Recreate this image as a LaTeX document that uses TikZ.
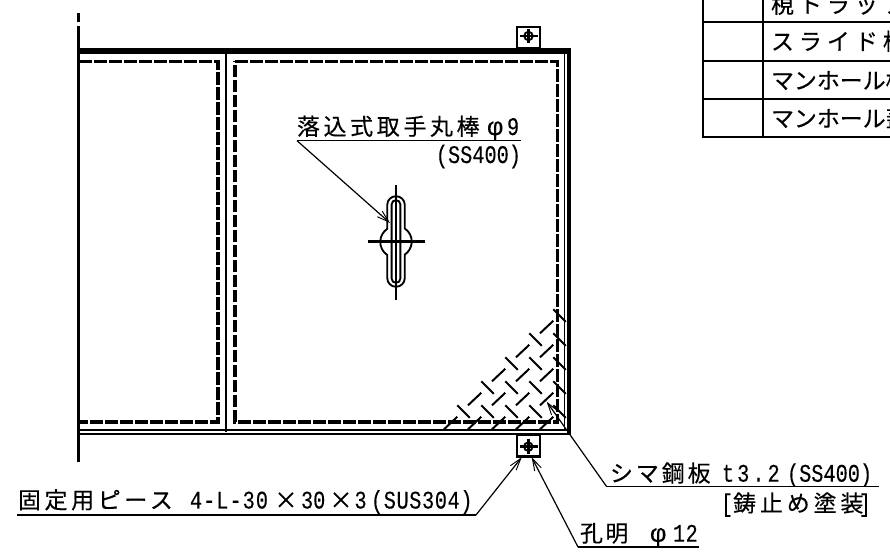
\documentclass[tikz,border=0pt]{standalone}
\usepackage{fontspec}
\usetikzlibrary{arrows.meta}
\newfontfamily\jpf{Noto Sans CJK JP}[FakeBold=0.35]
\newfontfamily\latf{Liberation Mono}[FakeStretch=0.8,FakeBold=0.2]
\newfontfamily\phif{Liberation Sans}[FakeBold=0.2]
\newcommand{\JT}[2]{{\jpf\fontsize{17.2pt}{18pt}\selectfont\addfontfeature{LetterSpace=#1}#2}}
\newcommand{\LT}[2]{{\latf\fontsize{19pt}{20pt}\selectfont\addfontfeature{LetterSpace=#1}#2}}
\newcommand{\PH}{{\phif\fontsize{19pt}{20pt}\selectfont φ}}
\tikzset{
  thinl/.style={line width=1.4pt,black},
  medl/.style={line width=1.8pt,black},
  leader/.style={line width=0.9pt,black},
  barb/.style={leader,-{Straight Barb[length=9pt,width=5.5pt,line width=0.7pt]}},
  dashb/.style={line width=2.9pt,black,dash pattern=on 9.5pt off 1.75pt},
  lab/.style={anchor=base west,inner sep=0pt,outer sep=0pt},
  labr/.style={anchor=base east,inner sep=0pt,outer sep=0pt},
  hatchl/.style={line width=1.5pt,black},
}
\begin{document}
\begin{tikzpicture}[x=0.75pt,y=-0.75pt]
\useasboundingbox (0,0) rectangle (890,552);
% outer left broken line
\draw[medl] (78.5,13) -- (78.5,22);
\draw[medl] (78.5,26) -- (78.5,462);
% frame
\draw[line width=3.8pt,black] (78.5,51) -- (570.7,51);
\draw[line width=2.8pt,black] (569,49) -- (569,434.5);
\draw[thinl] (564.5,51) -- (564.5,431);
\draw[thinl] (78.5,430) -- (569,430);
\draw[medl] (78.5,433.8) -- (570.7,433.8);
\draw[medl] (226,51) -- (226,432);
% panels
\draw[dashb] (79,61.5) -- (218,61.5) -- (218,422) -- (79,422);
\draw[dashb] (235,61.5) -- (557.5,61.5) -- (557.5,422) -- (235,422) -- cycle;
% checker plate hatching
\foreach \j in {0,...,4}{
  \foreach \i in {0,...,\j}{
    \draw[hatchl] ({540-24*\i},{333.3+24*\j}) -- ++(13.3,-12.5);
    \draw[hatchl] ({553.3-24*\i},{309.3+24*\j}) -- ++(12.5,12.5);
  }
}
% small fixing pieces
\draw[medl] (517,27) rectangle (540,48);
\draw[medl] (517,434.5) rectangle (540,456.5);
\draw[thinl] (528.5,36) circle[radius=3.2pt];
\draw[medl] (520,36) -- (537.5,36);
\draw[medl] (528.5,29) -- (528.5,43);
\draw[thinl] (528.3,446.7) circle[radius=3.2pt];
\draw[medl] (520,446.7) -- (537.5,446.7);
\draw[medl] (528.3,439) -- (528.3,454);
% handle
\draw[medl] (396,185) -- (396,300);
\draw[medl] (368,241.7) -- (425,241.7);
\draw[thinl] (387.2,205) arc[start angle=180,end angle=0,radius=6.6pt]
  -- (404.8,228.5) arc[start angle=56,end angle=-56,radius=11.8pt]
  -- (404.8,278) arc[start angle=0,end angle=-180,radius=6.6pt]
  -- (387.2,255) arc[start angle=-124,end angle=-236,radius=11.8pt] -- cycle;
\draw[thinl] (391.6,204.5) arc[start angle=180,end angle=0,radius=3.3pt]
  -- (400.4,278.5) arc[start angle=0,end angle=-180,radius=3.3pt] -- cycle;
% table
\draw[medl] (703,0) -- (703,137) -- (890,137);
\draw[medl] (763,0) -- (763,137);
\draw[medl] (703,22) -- (890,22);
\draw[medl] (703,61) -- (890,61);
\draw[medl] (703,99) -- (890,99);
\begin{scope}
\clip (764,0) rectangle (890,137);
\node[lab] (row1) at (771,13) {\JT{22}{梘トラップ}};
\node[lab] (row2) at (771,50) {\JT{22}{スライド枠}};
\node[lab] (row3) at (771,89) {\JT{0}{マンホール枠}};
\node[lab] (row4) at (771,127) {\JT{0}{マンホール蓋}};
\end{scope}
% labels
\node[lab] (handle) at (297,135) {\JT{16}{落込式取手丸棒}};
\node[lab] (handlep) at (487,135) {\PH};
\node[lab] (handlen) at (507,135) {\LT{0}{9}};
\node[labr] (handlem) at (521,163) {\LT{0}{(SS400)}};
\coordinate (hA) at (297,140.7);
\coordinate (hB) at (520.7,140.7);
\coordinate (hT) at (390,223);
\draw[leader] (hB) -- (hA);
\draw[barb] (hA) -- (hT);

\node[lab] (plate) at (610,481.7) {\JT{13}{シマ鋼板}};
\node[lab] (platet) at (722,481.7) {\LT{12}{t3.2}};
\node[lab] (plates) at (787,481.7) {\LT{0}{(SS400)}};
\node[lab] (paint) at (721,511.7) {\LT{0}{[}\JT{17}{鋳止め塗装}};
\node[labr] (paintb) at (871,511.7) {\LT{0}{]}};
\coordinate (pA) at (606.7,486.7);
\coordinate (pB) at (879,486.7);
\coordinate (pT) at (546.7,401.7);
\draw[leader] (pB) -- (pA);
\draw[barb] (pA) -- (pT);

\node[lab] (hole) at (580,541.7) {\JT{11}{孔明}};
\node[lab] (holep) at (650,541.7) {\PH};
\node[lab] (holen) at (673,541.7) {\LT{2}{12}};
\coordinate (oA) at (578,547);
\coordinate (oB) at (699,547);
\coordinate (oT) at (531.7,457.3);
\draw[leader] (oB) -- (oA);
\draw[barb] (oA) -- (oT);

\node[lab] (piece) at (18,508.5) {\JT{16}{固定用ピース}};
\node[lab] (piecea) at (190,508.5) {\LT{4}{4-L-30}};
\node[lab] (pieceb) at (274.5,508.5) {\JT{0}{×}};
\node[lab] (piecec) at (301,508.5) {\LT{0}{30}};
\node[lab] (pieced) at (329.5,508.5) {\JT{0}{×}};
\node[lab] (piecee) at (354.5,508.5) {\LT{0}{3}};
\node[lab] (piecef) at (371,508.5) {\LT{2.4}{(SUS304)}};
\coordinate (fA) at (17,515);
\coordinate (fB) at (476,515);
\coordinate (fT) at (521.7,457.3);
\draw[leader] (fA) -- (fB);
\draw[barb] (fB) -- (fT);
\end{tikzpicture}
\end{document}
